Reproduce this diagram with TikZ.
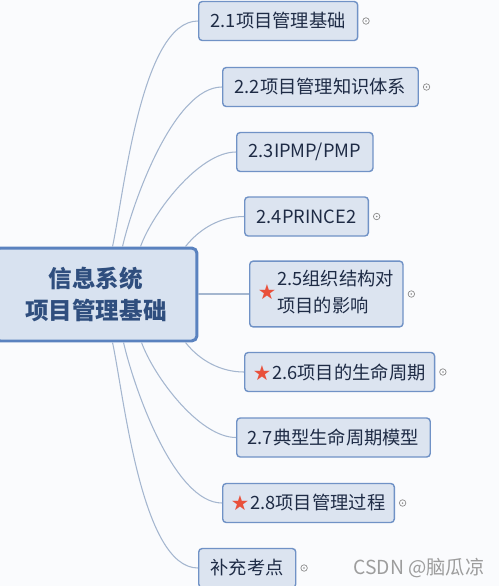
\documentclass[tikz,border=0pt]{standalone}
\usepackage{fontspec}
\usepackage{tikz}
\usetikzlibrary{calc,positioning}
\newfontfamily\cjk{Noto Sans CJK SC}
\definecolor{paper}{HTML}{FAFBFD}
\definecolor{boxfill}{HTML}{DCE4F0}
\definecolor{boxline}{HTML}{7092C6}
\definecolor{rootline}{HTML}{5A82BF}
\definecolor{rootfill}{HTML}{D8E2F0}
\definecolor{inktext}{HTML}{1E2B45}
\definecolor{roottext}{HTML}{2F4E7E}
\definecolor{branchc}{HTML}{A4B6CF}
\definecolor{starred}{HTML}{E9503B}
\definecolor{foldc}{HTML}{8C8C8C}
\tikzstyle{mind map}=[
    x=0.02cm, y=-0.02cm,
    every node/.style={
        font=\cjk,
        text=inktext,
    },
    every edge/.style={
        draw=branchc, line width=0.6pt,
    }]
\tikzstyle{topic}=[
    draw=rootline, fill=rootfill, line width=1.7pt, rounded corners=3pt,
    minimum width=4.04cm, minimum height=1.86cm, align=center,
    text=roottext, font=\cjk\bfseries\fontsize{13.4pt}{18.2pt}\selectfont]
\tikzstyle{subtopic}=[
    draw=boxline, fill=boxfill, line width=0.8pt, rounded corners=2pt,
    anchor=west, minimum height=0.78cm, inner xsep=0.24cm,
    font=\cjk\fontsize{10.4pt}{15.4pt}\selectfont]
\tikzstyle{fold}=[
    circle, draw=foldc, line width=0.4pt, inner sep=0pt, minimum size=0.13cm,
    path picture={\fill[foldc] (path picture bounding box.center) circle (0.5pt);}]
\newcommand{\hot}{\textcolor{starred}{\fontsize{9.6pt}{10pt}\selectfont ★}\hspace{1pt}}
\newcommand{\twolines}[2]{\begin{tabular}{@{}l@{}}#1\\#2\end{tabular}}

\begin{document}
\begin{tikzpicture}[mind map]
    \useasboundingbox[fill=paper] (0,0) rectangle (499,586);

    \node[topic] (root) at (96,294.5) {信息系统\\项目管理基础};

    \node[subtopic] (c1) at (198,21) {2.1项目管理基础};
    \node[subtopic] (c2) at (222,87) {2.2项目管理知识体系};
    \node[subtopic] (c3) at (236,152) {2.3IPMP/PMP};
    \node[subtopic] (c4) at (244,216.5) {2.4PRINCE2};
    \node[subtopic, minimum height=1.24cm, inner xsep=0.18cm] (c5) at (249,294)
        {\hot\twolines{2.5组织结构对}{项目的影响}};
    \node[subtopic, inner xsep=0.18cm] (c6) at (244,372) {\hot 2.6项目的生命周期};
    \node[subtopic, inner xsep=0.22cm] (c7) at (236,437.5) {2.7典型生命周期模型};
    \node[subtopic, inner xsep=0.18cm] (c8) at (222,503) {\hot 2.8项目管理过程};
    \node[subtopic] (c9) at (198,568) {补充考点};

    \node[fold, right=0.08cm of c1] (f1) {};
    \node[fold, right=0.08cm of c2] (f2) {};
    \node[fold, right=0.08cm of c4] (f4) {};
    \node[fold, right=0.08cm of c5] (f5) {};
    \node[fold, right=0.08cm of c6] (f6) {};
    \node[fold, right=0.08cm of c8] (f8) {};
    \node[fold, right=0.08cm of c9] (f9) {};

    \node[text=foldc!85, font=\cjk\fontsize{11pt}{13pt}\selectfont] (mark) at (419,568) {CSDN @脑瓜凉};

    % branches leave the root from its top and bottom edges
    \coordinate (t1) at ($(root.north west)+(119,0)$);
    \coordinate (t2) at ($(root.north west)+(129,0)$);
    \coordinate (t3) at ($(root.north west)+(147,0)$);
    \coordinate (t4) at ($(root.north west)+(192,0)$);
    \coordinate (b6) at ($(root.south west)+(192,0)$);
    \coordinate (b7) at ($(root.south west)+(148,0)$);
    \coordinate (b8) at ($(root.south west)+(130,0)$);
    \coordinate (b9) at ($(root.south west)+(119,0)$);

    \path
        (t1) edge[out=78, in=180, looseness=0.6] (c1)
        (t2) edge[out=77, in=180, looseness=0.65] (c2)
        (t3) edge[out=70, in=180, looseness=0.7] (c3)
        (t4) edge[out=52, in=180, looseness=0.9] (c4)
        (root.east |- c5.west) edge (c5.west)
        (b6) edge[out=-52, in=180, looseness=0.9] (c6)
        (b7) edge[out=-70, in=180, looseness=0.7] (c7)
        (b8) edge[out=-77, in=180, looseness=0.65] (c8)
        (b9) edge[out=-78, in=180, looseness=0.6] (c9)
    ;
\end{tikzpicture}
\end{document}
